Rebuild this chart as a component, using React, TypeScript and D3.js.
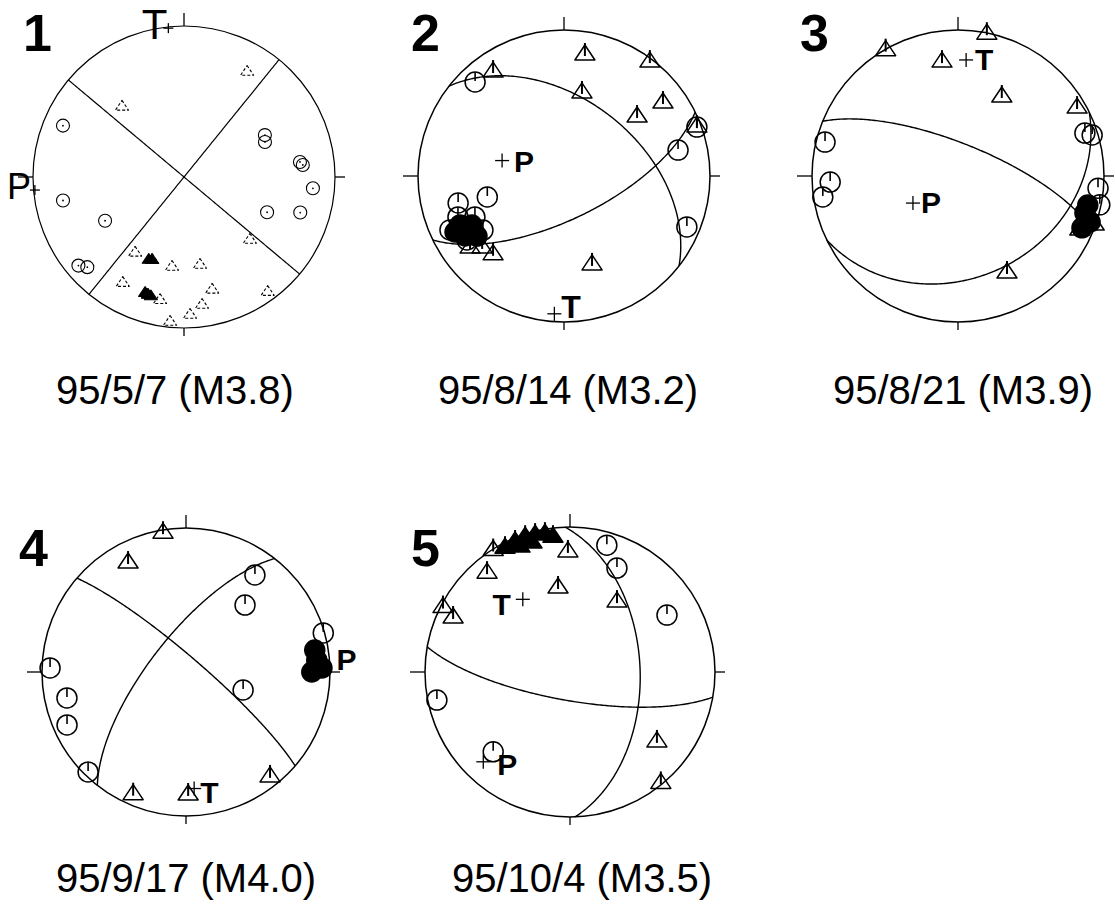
import React from "react";
import * as d3 from "d3";

// ---------- event info ----------
const eventIds = ["1", "2", "3", "4", "5"];
const eventDates = ["95/5/7", "95/8/14", "95/8/21", "95/9/17", "95/10/4"];
const eventMags = [3.8, 3.2, 3.9, 4.0, 3.5];

// ---------- nodal planes [strike, dip] ----------
const planes1 = [[310, 90], [39, 90]];
const planes2 = [[308, 47], [64, 66]];
const planes3 = [[292, 72], [64, 31]];
const planes4 = [[310.7, 81.6], [218, 70]];
const planes5 = [[358, 50], [100, 74]];

// ---------- P and T axes [trend, plunge] ----------
const pAxes = [[265, 1], [284, 54], [239, 60.5], [83, 8], [224, 15]];
const tAxes = [[354, 1], [184, 6], [4, 21.4], [176, 20], [327, 40]];

// ---------- first-motion polarities [azimuth, takeoff] ----------
// triangles = compressions, circles = dilatations, dense = overlapping clusters
const up1 = [[31, 70], [318.5, 52], [133.7, 50.5], [212.8, 50], [201, 49.3], [187.6, 50.3], [169.7, 49.5], [210, 70], [197, 70.6], [191, 72], [166, 66], [172, 74.5], [177.5, 80.6], [185.5, 86], [144, 83.6]];
const down1 = [[293, 76], [259, 70.5], [241, 50], [230, 80.4], [227, 76.5], [62.6, 50.5], [66.6, 48.8], [82.6, 66.4], [84.2, 68], [95, 74.6], [107, 69.4], [113, 50]];
const dense1 = [[197, 70.6], [195.5, 71], [198.5, 70], [201, 49.3], [203, 50]];

const up2 = [[9.8, 73], [37, 87.4], [325.7, 75.1], [12.2, 48.6], [53.6, 73.1], [51.1, 54.1], [69.8, 86.6], [222, 61.8], [162.5, 53.7], [232.5, 70], [228.7, 63.7]];
const down2 = [[316.6, 77.6], [69.8, 86.6], [77.2, 69], [254.7, 45.3], [255.7, 63.9], [112.5, 80.2], [244.7, 75.3], [236.3, 56.3], [236.6, 68.5], [248.9, 66.8], [245.3, 56.7]];
const dense2 = [[244.8, 67.6], [242, 60.7], [238.8, 68.1], [235.4, 61.6], [242.8, 72.8]];

const up3 = [[11.5, 89], [330, 89], [352, 67.7], [29, 51.9], [60.3, 83.2], [153.2, 63.5], [113.9, 80.4], [109.8, 89]];
const down3 = [[284.3, 83.3], [267.3, 76.6], [261.2, 83], [71.3, 80.9], [73, 85.6], [95, 85.8], [101.5, 89]];
const dense3 = [[106.2, 79.6], [109.2, 85.3], [112.7, 81.2], [102.6, 80.2]];

const up4 = [[350.6, 87.4], [332, 74.6], [203.3, 82], [179, 74.3], [141.3, 82.6]];
const down4 = [[35.4, 71.5], [41.4, 52], [74.1, 89], [107.5, 34.2], [271.7, 83.8], [257.7, 73.5], [246, 79.5], [224.4, 86.8]];
const dense4 = [[84.8, 80.3], [80.3, 79.8], [88.3, 83.8], [90, 76.3]];

const up5 = [[359, 71.7], [320, 78], [351.9, 48.9], [33.9, 48.5], [296.9, 88], [294.8, 77.8], [327.7, 89], [128.8, 65.9], [140.8, 89]];
const down5 = [[16.2, 80.2], [24.3, 67.6], [59.6, 66.5], [258.1, 83.1], [223.9, 65.4]];
const dense5 = [[332.3, 86], [337.1, 87], [341.6, 87.7], [345.7, 87.1], [349.7, 86.2], [338.2, 82], [343.6, 82], [352.8, 83]];

const allPlanes = [planes1, planes2, planes3, planes4, planes5];
const allUp = [up1, up2, up3, up4, up5];
const allDown = [down1, down2, down3, down4, down5];
const allDense = [dense1, dense2, dense3, dense4, dense5];
const denseKind = ["up", "down", "down", "down", "up"];

// ---------- layout (positions / styles) ----------
const FONT = "Arial, 'Liberation Sans', Helvetica, sans-serif";
const layout = [
  { cx: 184, cy: 177, R: 151, small: true, labelX: 175, labelY: 404, numX: 23, numY: 51,
    pLab: { dx: -4, dy: 9, anchor: "end", size: 36, weight: 400 },
    tLab: { dx: -1, dy: 11, anchor: "end", size: 42, weight: 400 } },
  { cx: 564, cy: 176, R: 146, small: false, labelX: 568, labelY: 404, numX: 411, numY: 51,
    pLab: { dx: 12, dy: 11, anchor: "start", size: 30, weight: 700 },
    tLab: { dx: 7, dy: 4, anchor: "start", size: 32, weight: 700 } },
  { cx: 958, cy: 176, R: 146, small: false, labelX: 963, labelY: 404, numX: 800, numY: 51,
    pLab: { dx: 8, dy: 10, anchor: "start", size: 30, weight: 700 },
    tLab: { dx: 9, dy: 10, anchor: "start", size: 30, weight: 700 } },
  { cx: 186, cy: 672, R: 144, small: false, labelX: 186, labelY: 892, numX: 19, numY: 566,
    pLab: { dx: 18, dy: 14, anchor: "start", size: 30, weight: 700 },
    tLab: { dx: 6, dy: 14, anchor: "start", size: 30, weight: 700 } },
  { cx: 570, cy: 672, R: 145, small: false, labelX: 582, labelY: 892, numX: 411, numY: 566,
    pLab: { dx: 14, dy: 13, anchor: "start", size: 30, weight: 700 },
    tLab: { dx: -12, dy: 16, anchor: "end", size: 30, weight: 700 } },
];

const RAD = Math.PI / 180;
// Schmidt (equal-area) lower-hemisphere radius for a takeoff angle
const eqArea = (takeoff: number) => Math.SQRT2 * Math.sin((takeoff * RAD) / 2);

function greatCircle(strike: number, dip: number) {
  const s = strike * RAD;
  const a = (strike + 90) * RAD;
  const d = dip * RAD;
  const sv = [Math.sin(s), Math.cos(s), 0];
  const dv = [Math.cos(d) * Math.sin(a), Math.cos(d) * Math.cos(a), -Math.sin(d)];
  return d3.range(0, 180.01, 1).map((t) => {
    const c = Math.cos(t * RAD);
    const si = Math.sin(t * RAD);
    const v = [c * sv[0] + si * dv[0], c * sv[1] + si * dv[1], c * sv[2] + si * dv[2]];
    const plunge = Math.asin(Math.max(-1, Math.min(1, -v[2]))) / RAD;
    const trend = Math.atan2(v[0], v[1]) / RAD;
    return [trend, 90 - plunge];
  });
}

function Ball({ i }: { i: number }) {
  const L = layout[i];
  const xs = d3.scaleLinear().domain([-1, 1]).range([L.cx - L.R, L.cx + L.R]);
  const ys = d3.scaleLinear().domain([-1, 1]).range([L.cy + L.R, L.cy - L.R]);
  const pt = (az: number, takeoff: number): [number, number] => {
    const r = eqArea(Math.min(takeoff, 90));
    return [xs(r * Math.sin(az * RAD)), ys(r * Math.cos(az * RAD))];
  };
  const line = d3.line();
  const sw = L.small ? 1.1 : 1.5;
  const k = L.small ? 0.65 : 1;
  const circR = 10 * k;
  const triW = 10 * k;

  const tri = (x: number, y: number, key: string, fill: string) => (
    <g key={key}>
      <path
        d={`M${x},${y - 10 * k}L${x + triW},${y + 5 * k}L${x - triW},${y + 5 * k}Z`}
        fill={fill}
        stroke="#000"
        strokeWidth={sw}
        strokeDasharray={L.small && fill === "none" ? "3 2" : undefined}
        strokeLinejoin="round"
      />
      {!L.small && <line x1={x} y1={y - 12} x2={x} y2={y + 1} stroke="#000" strokeWidth={2} />}
    </g>
  );
  const circ = (x: number, y: number, key: string, fill: string) => (
    <g key={key}>
      <circle cx={x} cy={y} r={circR} fill={fill} stroke="#000" strokeWidth={sw} />
      {!L.small && <line x1={x} y1={y - circR} x2={x} y2={y - 1} stroke="#000" strokeWidth={1.6} />}
      {L.small && <circle cx={x} cy={y} r={0.9} fill="#000" />}
    </g>
  );

  const [pTr, pPl] = pAxes[i];
  const [tTr, tPl] = tAxes[i];
  const [px, py] = pt(pTr, 90 - pPl);
  const [tx, ty] = pt(tTr, 90 - tPl);
  const arm = L.small ? 5 : 7;
  const cross = (x: number, y: number) => (
    <g stroke="#000" strokeWidth={1.3}>
      <line x1={x - arm} y1={y} x2={x + arm} y2={y} />
      <line x1={x} y1={y - arm} x2={x} y2={y + arm} />
    </g>
  );
  const ticks = [
    { az: 0, len: 13 },
    { az: 90, len: 10 },
    { az: 180, len: 8 },
    { az: 270, len: 15 },
  ];

  return (
    <g>
      <text x={L.numX} y={L.numY} fontFamily={FONT} fontWeight={700} fontSize={52}>
        {eventIds[i]}
      </text>
      <circle cx={L.cx} cy={L.cy} r={L.R} fill="none" stroke="#000" strokeWidth={L.small ? 1.2 : 1.5} />
      {ticks.map((t) => {
        const [x1, y1] = [xs(Math.sin(t.az * RAD)), ys(Math.cos(t.az * RAD))];
        const f = 1 + t.len / L.R;
        const [x2, y2] = [xs(f * Math.sin(t.az * RAD)), ys(f * Math.cos(t.az * RAD))];
        return <line key={t.az} x1={x1} y1={y1} x2={x2} y2={y2} stroke="#000" strokeWidth={1.3} />;
      })}
      {allPlanes[i].map(([s, d], j) => (
        <path key={j} d={line(greatCircle(s, d).map(([tr, to]) => pt(tr, to))) || ""}
          fill="none" stroke="#000" strokeWidth={L.small ? 1.2 : 1.4} />
      ))}
      {allDown[i].map(([az, to], j) => {
        const [x, y] = pt(az, to);
        return circ(x, y, "d" + j, "none");
      })}
      {allUp[i].map(([az, to], j) => {
        const [x, y] = pt(az, to);
        return tri(x, y, "u" + j, "none");
      })}
      {allDense[i].map(([az, to], j) => {
        const [x, y] = pt(az, to);
        return denseKind[i] === "up" ? tri(x, y, "n" + j, "#000") : circ(x, y, "n" + j, "#000");
      })}
      {cross(px, py)}
      {cross(tx, ty)}
      <text x={px + L.pLab.dx} y={py + L.pLab.dy} textAnchor={L.pLab.anchor} fontFamily={FONT}
        fontWeight={L.pLab.weight} fontSize={L.pLab.size}>P</text>
      <text x={tx + L.tLab.dx} y={ty + L.tLab.dy} textAnchor={L.tLab.anchor} fontFamily={FONT}
        fontWeight={L.tLab.weight} fontSize={L.tLab.size}>T</text>
      <text x={L.labelX} y={L.labelY} textAnchor="middle" fontFamily={FONT} fontSize={40}>
        {`${eventDates[i]} (M${eventMags[i].toFixed(1)})`}
      </text>
    </g>
  );
}

export default function App() {
  return (
    <svg width={1115} height={915} style={{ position: "absolute", left: 0, top: 0, background: "#fff" }}>
      <rect x={0} y={0} width={1115} height={915} fill="#fff" />
      {eventIds.map((_, i) => (
        <Ball key={i} i={i} />
      ))}
    </svg>
  );
}
